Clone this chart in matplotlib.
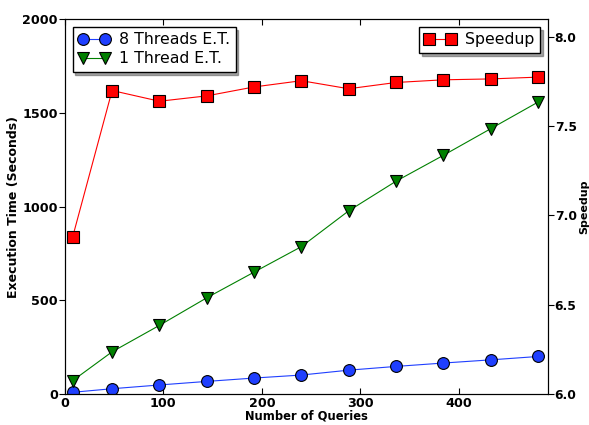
import matplotlib
matplotlib.use("Agg")
import matplotlib.pyplot as plt

queries = [8, 48, 96, 144, 192, 240, 288, 336, 384, 432, 480]
time_8_threads = [9, 28, 48, 67, 85, 101, 127, 147, 165, 182, 200]
time_1_thread = [71, 225, 366, 513, 650, 786, 977, 1135, 1273, 1415, 1557]
speedup = [6.88, 7.70, 7.64, 7.67, 7.72, 7.755, 7.71, 7.745, 7.76, 7.765, 7.775]

plt.rcParams["font.family"] = "DejaVu Sans"

fig = plt.figure(figsize=(5.89, 4.25), dpi=100)
ax1 = fig.add_axes([0.110, 0.073, 0.820, 0.882])

ax1.plot(queries, time_8_threads, color="#1f3fff", marker="o", markersize=8.5,
         markeredgecolor="black", markeredgewidth=0.8, linewidth=0.8,
         label="8 Threads E.T.")
ax1.plot(queries, time_1_thread, color="#008000", marker="v", markersize=8.5,
         markeredgecolor="black", markeredgewidth=0.8, linewidth=0.8,
         label="1 Thread E.T.")
ax1.set_xlim(0, 490)
ax1.set_ylim(0, 2000)
ax1.set_xticks([0, 100, 200, 300, 400])
ax1.set_yticks([0, 500, 1000, 1500, 2000])
ax1.set_xlabel("Number of Queries", fontsize=8.3, fontweight="bold", labelpad=0)
ax1.set_ylabel("Execution Time (Seconds)", fontsize=9, fontweight="bold", labelpad=2)
ax1.tick_params(axis="x", direction="in", top=True, length=4, labelsize=9.2, pad=2)
ax1.tick_params(axis="y", direction="out", length=4, labelsize=9.2, pad=1)
for t in ax1.get_xticklabels() + ax1.get_yticklabels():
    t.set_fontweight("bold")

ax2 = ax1.twinx()
ax2.plot(queries, speedup, color="#ff0000", marker="s", markersize=8.5,
         markeredgecolor="black", markeredgewidth=0.8, linewidth=0.8,
         label="Speedup")
ax2.set_ylim(6.0, 8.1)
ax2.set_yticks([6.0, 6.5, 7.0, 7.5, 8.0])
ax2.tick_params(axis="y", direction="out", length=4, labelsize=8.8, pad=1)
for t in ax2.get_yticklabels():
    t.set_fontweight("bold")
# right-hand axis title, rotated like the left one
fig.text(1.0, 0.514, "Speedup", rotation=90, ha="right", va="center",
         fontsize=8, fontweight="bold")

ax1.legend(loc="upper left", numpoints=2, fancybox=False, shadow=True,
           prop={"size": 11.3}, handlelength=2.0, borderpad=0.35,
           labelspacing=0.25, handletextpad=0.6, edgecolor="black")
ax2.legend(loc="upper right", numpoints=2, fancybox=False, shadow=True,
           prop={"size": 11.3}, handlelength=2.0, borderpad=0.35,
           handletextpad=0.6, edgecolor="black")

fig.savefig("out.png", dpi=100)
